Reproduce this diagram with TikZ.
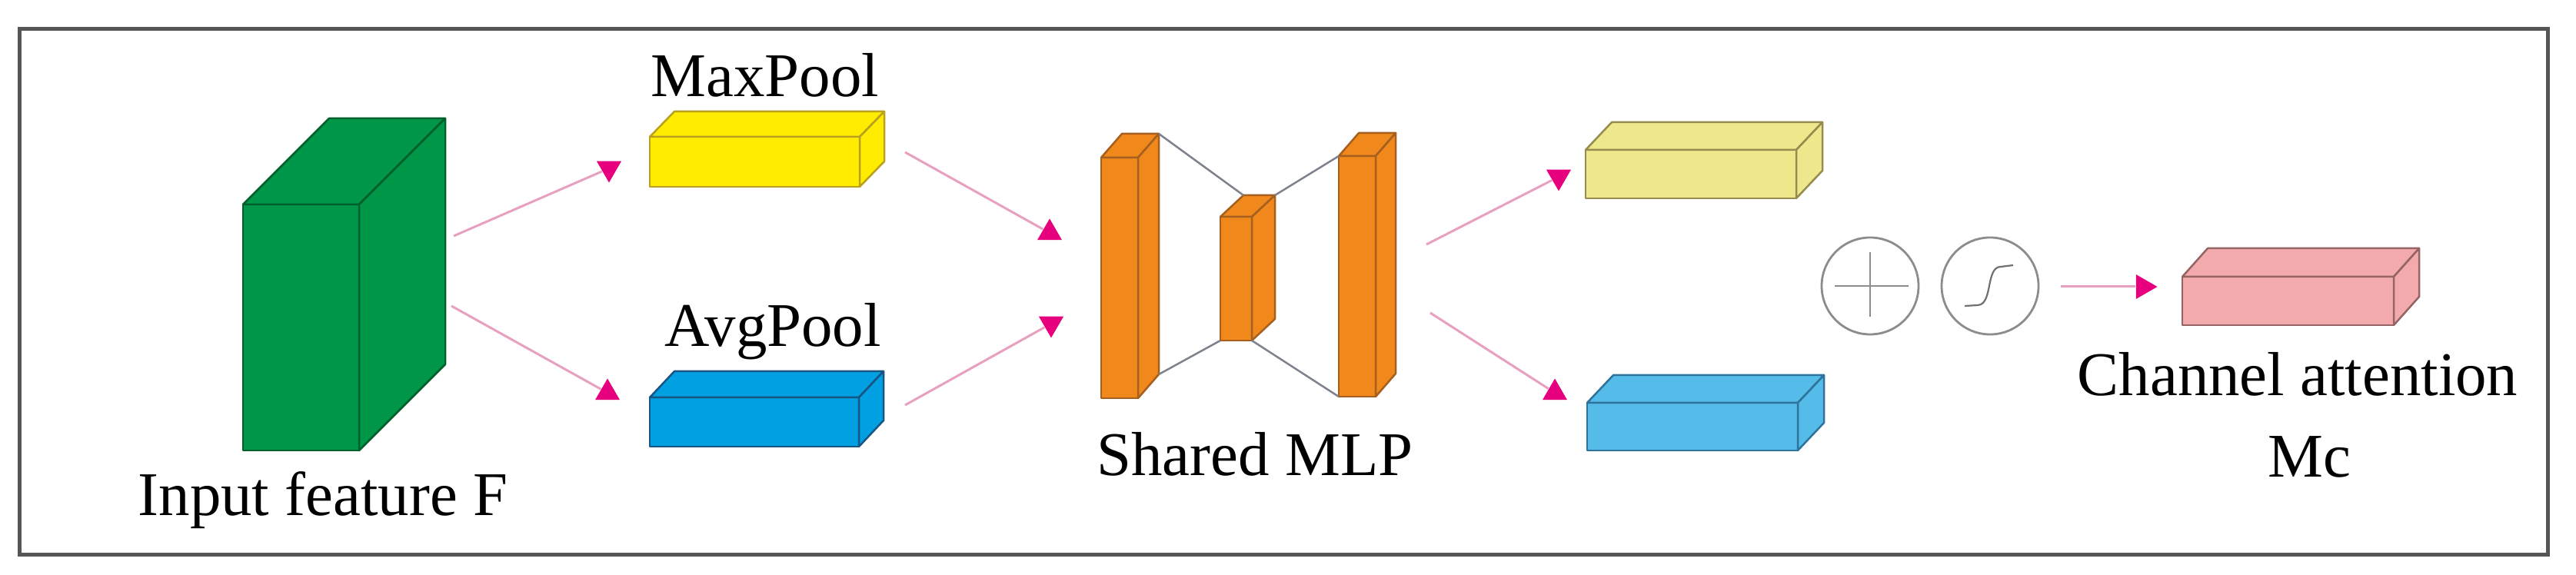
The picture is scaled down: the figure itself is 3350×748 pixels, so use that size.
\documentclass[tikz,border=0pt]{standalone}
\usepackage{fontspec}
\setmainfont{Liberation Serif}
\usetikzlibrary{shapes.geometric}
\definecolor{framec}{RGB}{85,85,85}
\definecolor{linkc}{RGB}{232,160,192}
\definecolor{headc}{RGB}{230,0,126}
\definecolor{opc}{RGB}{140,140,140}
\definecolor{mlpc}{RGB}{125,130,140}
\definecolor{featf}{RGB}{0,152,72}   \definecolor{featd}{RGB}{0,95,45}
\definecolor{maxf}{RGB}{255,236,0}   \definecolor{maxd}{RGB}{185,160,30}
\definecolor{avgf}{RGB}{0,160,226}   \definecolor{avgd}{RGB}{25,85,130}
\definecolor{mlpf}{RGB}{240,136,28}  \definecolor{mlpd}{RGB}{165,95,30}
\definecolor{mxof}{RGB}{238,232,140} \definecolor{mxod}{RGB}{150,140,80}
\definecolor{avof}{RGB}{85,187,232}  \definecolor{avod}{RGB}{45,115,155}
\definecolor{attf}{RGB}{242,170,172} \definecolor{attd}{RGB}{150,100,100}
% #1 name, #2 colour, #3-#6 front face l t r b, #7 #8 depth
\newcommand\DrawCuboid[8]{%
  \coordinate (#1-ftl) at (#3,#4);
  \coordinate (#1-ftr) at (#5,#4);
  \coordinate (#1-fbl) at (#3,#6);
  \coordinate (#1-fbr) at (#5,#6);
  \coordinate (#1-btl) at (#3+#7,#4-#8);
  \coordinate (#1-btr) at (#5+#7,#4-#8);
  \coordinate (#1-bbr) at (#5+#7,#6-#8);
  \draw[face=#2] (#1-ftl) rectangle (#1-fbr);
  \draw[face=#2] (#1-ftl)--(#1-btl)--(#1-btr)--(#1-ftr)--cycle;
  \draw[face=#2] (#1-ftr)--(#1-btr)--(#1-bbr)--(#1-fbr)--cycle;
}
\begin{document}
\begin{tikzpicture}[x=.1mm,y=-.1mm,font=\fontsize{23}{28}\selectfont,
	face/.style={fill=#1f,draw=#1d,line width=.25mm,line join=round},
	link/.style={draw=linkc,line width=.3mm},
	head/.style={regular polygon,regular polygon sides=3,fill=headc,inner sep=0pt,minimum size=3.7mm},
	opcirc/.style={circle,draw=opc,line width=.28mm,minimum size=12.6mm,inner sep=0pt}]
	\useasboundingbox (0,0) rectangle (3350,748);
	\draw[framec,line width=.5mm] (25,38) rectangle (3313,722);
	% input
	\DrawCuboid{feat}{feat}{316}{266}{467}{586}{112}{112}
	\node[anchor=base] (featlab) at (420,671) {Input feature F};
	% pooling
	\DrawCuboid{maxp}{max}{845}{178}{1118}{243}{32}{33}
	\DrawCuboid{avgp}{avg}{845}{517}{1117}{581}{32}{34}
	\node[anchor=base] (maxlab) at (995,126) {MaxPool};
	\node[anchor=base] (avglab) at (1005,451) {AvgPool};
	% shared MLP
	\DrawCuboid{mlpL}{mlp}{1432}{205}{1480}{518}{27}{31}
	\DrawCuboid{mlpM}{mlp}{1587}{282}{1628}{443}{30}{28}
	\DrawCuboid{mlpR}{mlp}{1741}{203}{1789}{516}{26}{30}
	\draw[mlpc,line width=.25mm] (mlpL-btr)--(mlpM-btl) (mlpM-btr)--(mlpR-ftl)
		(mlpL-bbr)--(mlpM-fbl) (mlpM-fbr)--(mlpR-fbl);
	\node[anchor=base] (mlplab) at (1632,619) {Shared MLP};
	% outputs
	\DrawCuboid{mxo}{mxo}{2062}{195}{2336}{258}{34}{36}
	\DrawCuboid{avo}{avo}{2064}{524}{2338}{586}{34}{36}
	\node[opcirc] (plus) at (2432,372) {};
	\draw[opc,line width=.22mm] ([xshift=-4.6mm]plus.center)--([xshift=5mm]plus.center)
		([yshift=4.4mm]plus.center)--([yshift=-4mm]plus.center);
	\node[opcirc] (sig) at (2588,372) {};
	\draw[opc!80!black,line width=.22mm,shift={(sig.center)}] (-33,26)--(-16,25)
		.. controls (4,24) and (-6,-25) .. (14,-25)--(30,-27);
	\DrawCuboid{att}{att}{2838}{360}{3113}{423}{33}{37}
	\node[anchor=base] (attlab) at (2988,515) {Channel attention};
	\node[anchor=base] (mclab) at (3003,621) {Mc};
	% arrows
	\foreach \n/\sx/\sy/\hx/\hy/\r in {1/590/307/792/219/180,2/587/398/790/511/0,
		3/1177/198/1365/303/0,4/1177/527/1367/421/180,5/1855/318/2027/230/180,
		6/1860/407/2022/511/0,7/2680/373/2787/373/-90}{
		\coordinate (s\n) at (\sx,\sy);
		\node[head,shape border rotate=\r] (h\n) at (\hx,\hy) {};
		\draw[link] (s\n)--(h\n);
	}
\end{tikzpicture}
\end{document}
